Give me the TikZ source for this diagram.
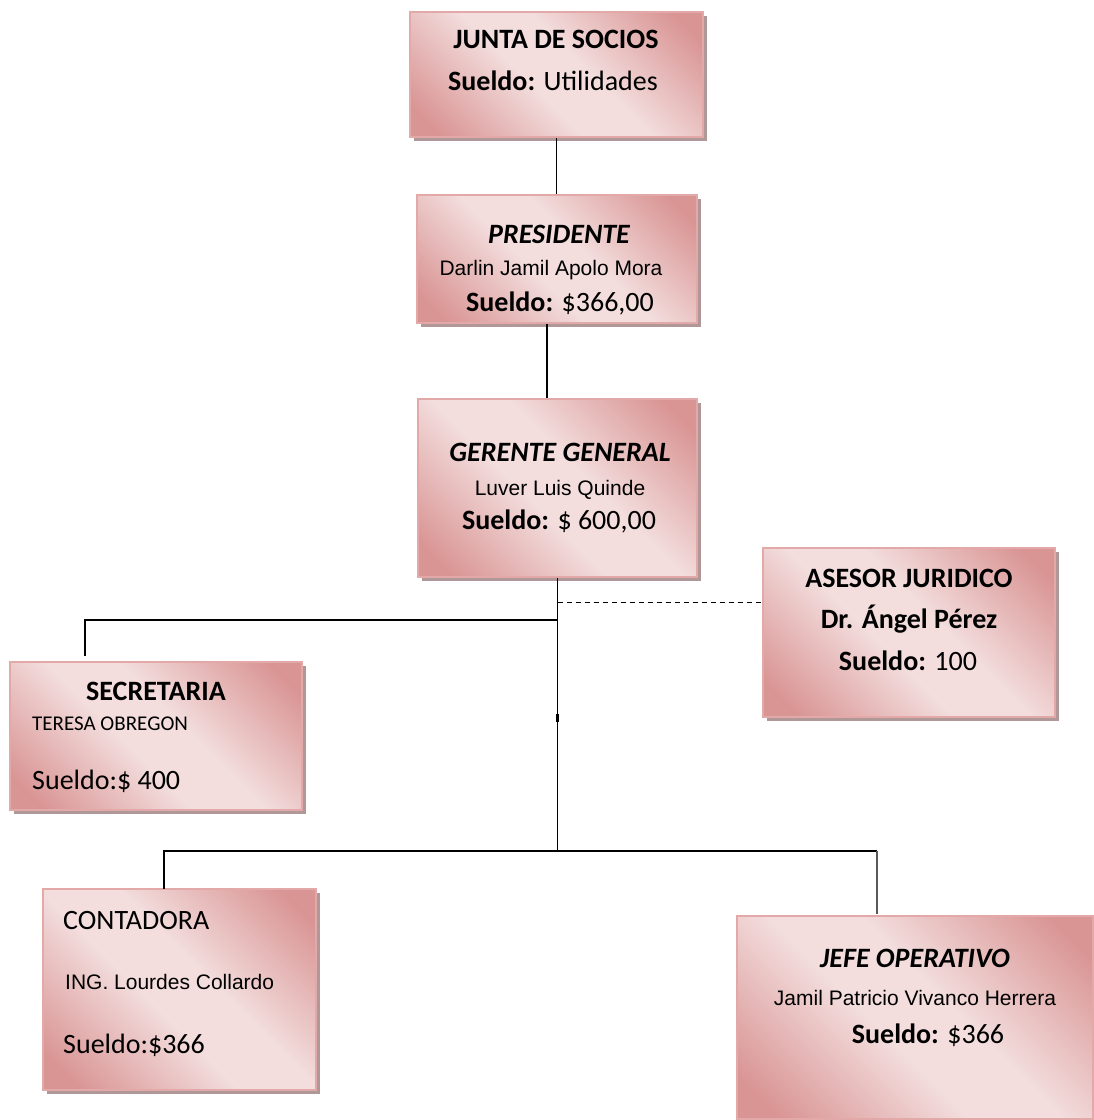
\documentclass[tikz,border=0pt]{standalone}
\usepackage{fontspec}
\setmainfont{Carlito}
\newfontfamily\arialfont{Liberation Sans}
\usepackage{tikz}
\usetikzlibrary{calc,positioning,shadows}
\definecolor{rosedark}{HTML}{D99594}
\definecolor{roselight}{HTML}{F3DDDD}
\definecolor{roseedge}{HTML}{E2A9A8}
\definecolor{shadowgray}{HTML}{B09898}
\pgfdeclareverticalshading{roseshade}{100bp}{color(0bp)=(rosedark); color(20bp)=(rosedark);
  color(44bp)=(roselight); color(56bp)=(roselight); color(80bp)=(rosedark); color(100bp)=(rosedark)}
\newcommand{\cargo}{\fontsize{28}{34}\selectfont\bfseries}
\newcommand{\sueldo}{\fontsize{28}{34}\selectfont}
\newcommand{\nombre}{\arialfont\fontsize{21}{25}\selectfont}
\newcommand{\nombrec}{\fontsize{21}{25}\selectfont}

\begin{document}
\begin{tikzpicture}[x=1pt,y=-1pt,
    orgbox/.style={draw=roseedge,line width=1.5pt,inner sep=0pt,
      shading=roseshade,shading angle=-45,
      drop shadow={fill=shadowgray,opacity=1,shadow xshift=4pt,shadow yshift=-4pt}},
    txt/.style={inner sep=0pt,anchor=base},
    txtl/.style={inner sep=0pt,anchor=base west},
    link/.style={line width=1.2pt}]
    \fill[white] (0,0) rectangle (1094,1120);
    \useasboundingbox (0,0) rectangle (1094,1120);

    % cajas
    \node[orgbox,minimum width=293pt,minimum height=125pt] (junta) at (556.5,74.5) {};
    \node[orgbox,minimum width=280pt,minimum height=128pt] (presidente) at (557,259) {};
    \node[orgbox,minimum width=279pt,minimum height=178pt] (gerente) at (557.5,488) {};
    \node[orgbox,minimum width=292pt,minimum height=169pt] (asesor) at (909,632.5) {};
    \node[orgbox,minimum width=292pt,minimum height=148pt] (secretaria) at (156,736) {};
    \node[orgbox,minimum width=273pt,minimum height=201pt] (contadora) at (179.5,989.5) {};
    \node[orgbox,minimum width=356pt,minimum height=203pt] (jefe) at (915,1017.5) {};

    % textos
    \node[txt] (juntaA) at (556,48) {\cargo JUNTA DE SOCIOS};
    \node[txt] (juntaB) at (553,90) {\sueldo\textbf{Sueldo:} Utilidades};

    \node[txt] (presA) at (559,243) {\cargo\itshape PRESIDENTE};
    \node[txt] (presB) at (551,275) {\nombre Darlin Jamil Apolo Mora};
    \node[txt] (presC) at (560,311) {\sueldo\textbf{Sueldo:} \$366,00};

    \node[txt] (gerA) at (560,461) {\cargo\itshape GERENTE GENERAL};
    \node[txt] (gerB) at (560,495) {\nombre Luver Luis Quinde};
    \node[txt] (gerC) at (559,529) {\sueldo\textbf{Sueldo:} \$ 600,00};

    \node[txt] (aseA) at (909,587) {\cargo ASESOR JURIDICO};
    \node[txt] (aseB) at (909,628) {\cargo Dr. Ángel Pérez};
    \node[txt] (aseC) at (908,670) {\sueldo\textbf{Sueldo:} 100};

    \node[txt] (secA) at (156,700) {\cargo SECRETARIA};
    \node[txtl] (secB) at (32,730) {\nombrec TERESA OBREGON};
    \node[txtl] (secC) at (32,789) {\sueldo Sueldo:\$ 400};

    \node[txtl] (conA) at (63,929) {\sueldo CONTADORA};
    \node[txtl] (conB) at (65,989) {\nombre ING. Lourdes Collardo};
    \node[txtl] (conC) at (63,1053) {\sueldo Sueldo:\$366};

    \node[txt] (jefA) at (915,967) {\cargo\itshape JEFE OPERATIVO};
    \node[txt] (jefB) at (915,1005) {\nombre Jamil Patricio Vivanco Herrera};
    \node[txt] (jefC) at (928,1043) {\sueldo\textbf{Sueldo:} \$366};

    % conectores
    \coordinate (presOff) at ([xshift=-10pt]presidente.south);
    \coordinate (busA) at (557.5,620);
    \coordinate (busB) at (557.5,851);
    \coordinate (dashA) at (557.5,602);
    \coordinate (secTop) at (85,656);
    \coordinate (conTop) at (164,889);
    \coordinate (jefTop) at (877,914);

    \draw[link] (junta.south) -- (junta.south |- presidente.north);
    \draw[link] (presOff) -- (presOff |- gerente.north);
    \draw[link] (gerente.south) -- (busB);
    \draw[link,dash pattern=on 5pt off 4pt,line width=1pt] (dashA) -- (dashA -| asesor.west);
    \draw[link] (busA) -| (secTop);
    \draw[link] (conTop) |- (busB) -- (busB -| jefTop);
    \draw[link,black!65] (busB -| jefTop) -- (jefTop);
    \draw[line width=2.4pt] (557.5,714) -- (557.5,722);
\end{tikzpicture}
\end{document}
